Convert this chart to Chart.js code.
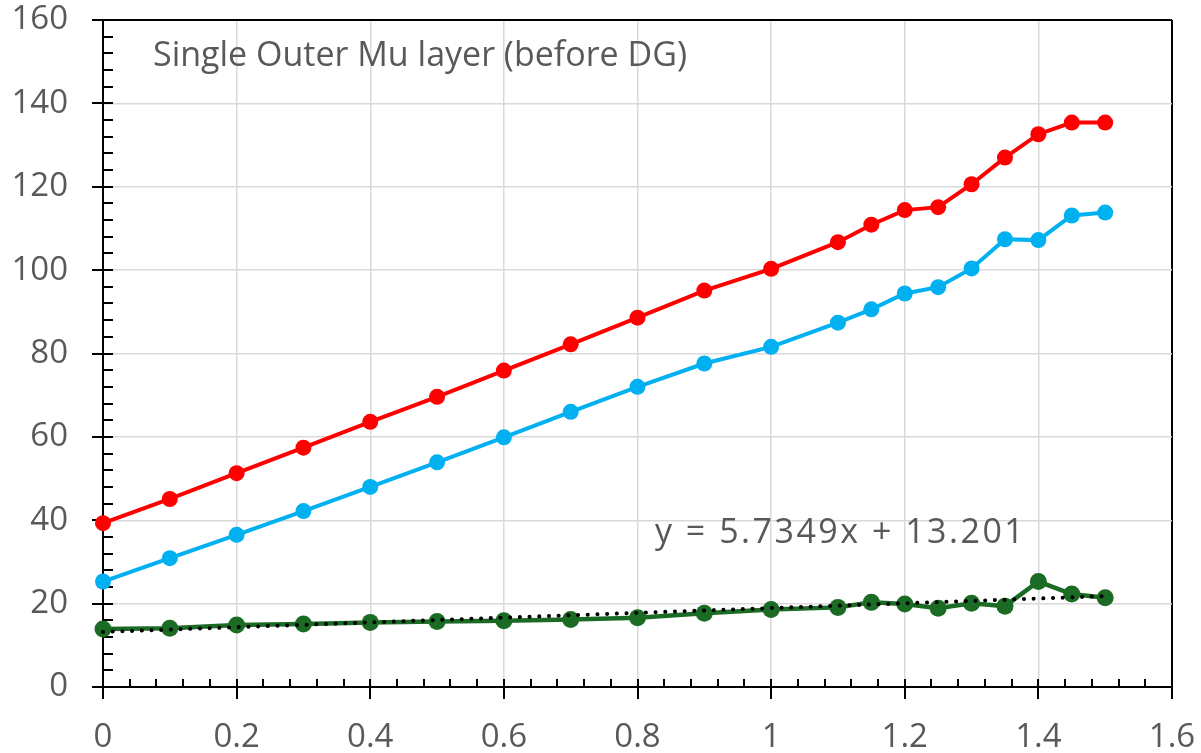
<!DOCTYPE html>
<html>
<head>
<meta charset="utf-8">
<style>
  html, body { margin: 0; padding: 0; background: #ffffff; }
  #wrap { width: 1201px; height: 753px; position: relative; }
</style>
<script src="https://cdn.jsdelivr.net/npm/chart.js@4.4.1/dist/chart.umd.min.js"></script>
</head>
<body>
<div id="wrap"><canvas id="c" width="1201" height="753"></canvas></div>
<script>
// ---- data ----
const xValues = [0, 0.1, 0.2, 0.3, 0.4, 0.5, 0.6, 0.7, 0.8, 0.9, 1.0, 1.1, 1.15, 1.2, 1.25, 1.3, 1.35, 1.4, 1.45, 1.5];
const redValues   = [39.3, 45.1, 51.3, 57.4, 63.6, 69.6, 75.9, 82.2, 88.6, 95.1, 100.3, 106.7, 110.9, 114.4, 115.1, 120.6, 127.0, 132.6, 135.4, 135.4];
const blueValues  = [25.3, 30.9, 36.5, 42.2, 48.0, 53.9, 59.9, 66.0, 72.0, 77.6, 81.6, 87.4, 90.6, 94.4, 95.9, 100.4, 107.4, 107.2, 113.1, 113.8];
const greenValues = [13.9, 14.1, 14.9, 15.1, 15.5, 15.7, 15.9, 16.2, 16.6, 17.7, 18.6, 19.1, 20.3, 19.9, 18.9, 20.1, 19.4, 25.3, 22.3, 21.4];
const trendX = [0, 1.5];
const trendY = [13.201, 21.80];
const xTickLabels = ['0', '0.2', '0.4', '0.6', '0.8', '1', '1.2', '1.4', '1.6'];
const yTickLabels = ['0', '20', '40', '60', '80', '100', '120', '140', '160'];
const chartNote = 'Single Outer Mu layer (before DG)';
const trendLabel = 'y = 5.7349x + 13.201';

const pts = (xs, ys) => xs.map((x, i) => ({ x: x, y: ys[i] }));

const TEXT = '#595959';
const GRID = '#d9d9d9';
const FONT = '"Open Sans"';

const ticksPlugin = {
  id: 'axisTicks',
  beforeDatasetsDraw(chart) {
    const ctx = chart.ctx;
    const xs = chart.scales.x, ys = chart.scales.y;
    const a = chart.chartArea;
    ctx.save();
    ctx.strokeStyle = '#000';
    ctx.lineWidth = 2;
    ctx.beginPath();
    for (let i = 0; i <= 40; i++) {
      const py = Math.round(ys.getPixelForValue(i * 4));
      if (i % 5 === 0) { ctx.moveTo(a.left - 11, py); ctx.lineTo(a.left + 10, py); }
      else { ctx.moveTo(a.left, py); ctx.lineTo(a.left + 10, py); }
    }
    for (let i = 0; i <= 40; i++) {
      const px = Math.round(xs.getPixelForValue(i * 0.04));
      if (i % 5 === 0) { ctx.moveTo(px, a.bottom - 8); ctx.lineTo(px, a.bottom + 12); }
      else { ctx.moveTo(px, a.bottom - 8); ctx.lineTo(px, a.bottom); }
    }
    ctx.stroke();
    ctx.restore();
  },
  afterDraw(chart) {
    const ctx = chart.ctx;
    const a = chart.chartArea;
    ctx.save();
    ctx.fillStyle = TEXT;
    ctx.textAlign = 'left';
    ctx.textBaseline = 'middle';
    ctx.font = '34px ' + FONT;
    ctx.fillText(chartNote, a.left + 50, a.top + 36);
    ctx.font = '34px ' + FONT;
    if ('letterSpacing' in ctx) ctx.letterSpacing = '2.5px';
    ctx.fillText(trendLabel, a.left + 552, a.top + 513);
    ctx.restore();
  }
};

const isEdge = (c, edge) => c.tick && Math.abs(c.tick.value - edge) < 1e-9;
const zeroPad = (s) => { s.paddingLeft = 0; s.paddingRight = 0; s.paddingTop = 0; s.paddingBottom = 0; };

new Chart(document.getElementById('c'), {
  type: 'scatter',
  data: {
    datasets: [
      {
        label: 'Trend', data: pts(trendX, trendY), showLine: true,
        borderColor: '#000000', borderWidth: 4, borderDash: [0.1, 9.6], borderCapStyle: 'round',
        pointRadius: 0, pointHoverRadius: 0, clip: false
      },
      {
        label: 'Red', data: pts(xValues, redValues), showLine: true,
        borderColor: '#ff0000', backgroundColor: '#ff0000', borderWidth: 4,
        pointRadius: 8, pointBorderWidth: 0, pointBackgroundColor: '#ff0000', clip: false
      },
      {
        label: 'Blue', data: pts(xValues, blueValues), showLine: true,
        borderColor: '#00b0f0', backgroundColor: '#00b0f0', borderWidth: 4,
        pointRadius: 8, pointBorderWidth: 0, pointBackgroundColor: '#00b0f0', clip: false
      },
      {
        label: 'Green', data: pts(xValues, greenValues), showLine: true,
        borderColor: '#1b6b24', backgroundColor: '#1b6b24', borderWidth: 4.5,
        pointRadius: 8.5, pointBorderWidth: 0, pointBackgroundColor: '#1b6b24', clip: false
      }
    ]
  },
  options: {
    responsive: false,
    animation: false,
    devicePixelRatio: 1,
    layout: { padding: { top: 20, right: 29, left: 0, bottom: 0 } },
    plugins: { legend: { display: false }, tooltip: { enabled: false }, title: { display: false } },
    scales: {
      x: {
        type: 'linear', min: 0, max: 1.6,
        afterFit: (s) => { s.height = 66; zeroPad(s); },
        afterBuildTicks: (s) => { s.ticks = xTickLabels.map((t, i) => ({ value: i * 0.2 })); },
        ticks: {
          padding: 31, color: TEXT, font: { family: FONT, size: 33 },
          maxRotation: 0, autoSkip: false,
          callback: (v, i) => xTickLabels[i]
        },
        grid: {
          color: (c) => isEdge(c, 1.6) ? '#000000' : GRID,
          lineWidth: (c) => isEdge(c, 1.6) ? 2 : 1.5, drawTicks: false
        },
        border: { display: true, color: '#000000', width: 2 }
      },
      y: {
        type: 'linear', min: 0, max: 160,
        afterFit: (s) => { s.width = 103; zeroPad(s); },
        afterBuildTicks: (s) => { s.ticks = yTickLabels.map((t, i) => ({ value: i * 20 })); },
        ticks: {
          padding: 35, color: TEXT, font: { family: FONT, size: 33 },
          autoSkip: false,
          callback: (v, i) => yTickLabels[i]
        },
        grid: {
          color: (c) => isEdge(c, 160) ? '#000000' : GRID,
          lineWidth: (c) => isEdge(c, 160) ? 2 : 1.5, drawTicks: false
        },
        border: { display: true, color: '#000000', width: 2 }
      }
    }
  },
  plugins: [ticksPlugin]
});
</script>
</body>
</html>
